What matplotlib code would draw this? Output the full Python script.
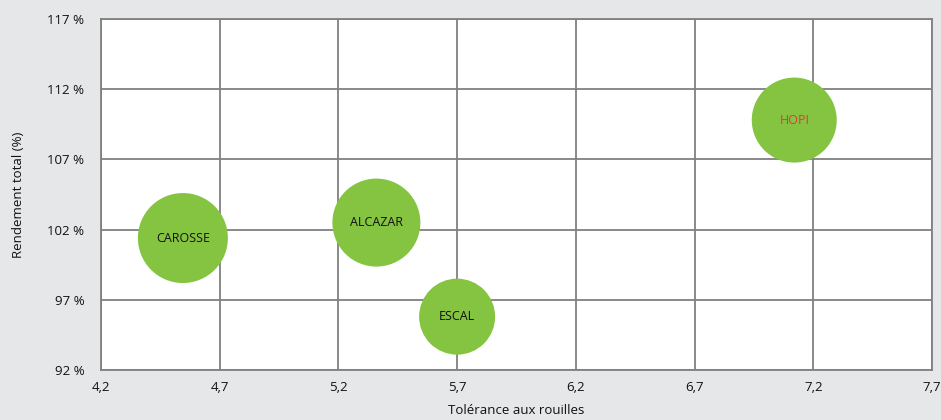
import matplotlib.pyplot as plt

noms = ["CAROSSE", "ALCAZAR", "ESCAL", "HOPI"]
tolerance = [4.545, 5.36, 5.7, 7.12]
rendement = [101.4, 102.5, 95.8, 109.8]
taille = [90, 88, 76, 85]  # diametre relatif des bulles
couleur_txt = ["#111111", "#111111", "#111111", "#e03a3e"]

x_ticks = [4.2, 4.7, 5.2, 5.7, 6.2, 6.7, 7.2, 7.7]
y_ticks = [92, 97, 102, 107, 112, 117]

plt.rcParams['font.family'] = ['Open Sans', 'DejaVu Sans']

fig = plt.figure(figsize=(9.41, 4.2), dpi=100, facecolor="#e6e7e9")
ax = fig.add_axes([0.1073, 0.119, 0.8831, 0.8358])
ax.set_facecolor("white")

s = [(d * 0.72) ** 2 for d in taille]
ax.scatter(tolerance, rendement, s=s, color="#84c441", edgecolors="none", zorder=3)
for n, x, y, c in zip(noms, tolerance, rendement, couleur_txt):
    ax.text(x, y, n, ha="center", va="center", fontsize=9, color=c, zorder=4)

ax.set_xlim(4.2, 7.7)
ax.set_ylim(92, 117)
ax.set_xticks(x_ticks)
ax.set_yticks(y_ticks)
ax.set_xticklabels([str(v).replace(".", ",") for v in x_ticks])
ax.set_yticklabels([f"{v} %" for v in y_ticks])
ax.tick_params(length=0, labelsize=9.5, colors="#111111")
ax.tick_params(axis="y", pad=12)
ax.tick_params(axis="x", pad=8)
ax.grid(True, color="#808080", lw=1.3)
ax.set_axisbelow(True)
for sp in ax.spines.values():
    sp.set_color("#808080")
    sp.set_linewidth(1.3)

ax.set_xlabel("Tolérance aux rouilles", fontsize=9.5, color="#111111", labelpad=7)
ax.set_ylabel("Rendement total (%)", fontsize=9.5, color="#111111", labelpad=16)

fig.savefig("out.png", dpi=100, facecolor=fig.get_facecolor())
